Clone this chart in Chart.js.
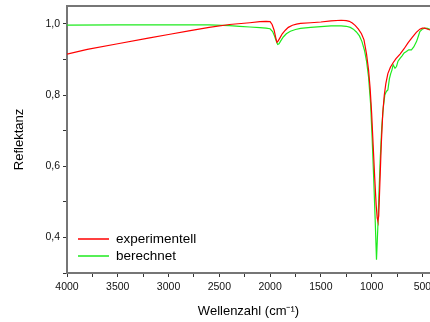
<!DOCTYPE html>
<html>
<head>
<meta charset="utf-8">
<script src="https://cdn.jsdelivr.net/npm/chart.js@4/dist/chart.umd.min.js"></script>
<style>
  html, body { margin: 0; padding: 0; background: #fff; }
  #wrap { width: 430px; height: 322px; position: relative; }
</style>
</head>
<body>
<div id="wrap"><canvas id="spectrum"></canvas></div>
<script>
// series labels
const seriesLabels = ["experimentell", "berechnet"];

// experimentell (red), wavenumber in cm^-1 and reflectance
const expWavenumber = [4000, 3800, 3500, 3200, 3000, 2800, 2600, 2400, 2200, 2100, 2040, 2000, 1980, 1960, 1945, 1932, 1920, 1900, 1880, 1850, 1820, 1780, 1740, 1700, 1600, 1500, 1400, 1300, 1250, 1220, 1190, 1160, 1130, 1100, 1075, 1050, 1030, 1015, 1000, 985, 970, 955, 945, 938, 930, 920, 905, 890, 875, 860, 840, 815, 790, 760, 720, 680, 640, 600, 560, 525, 500, 480, 460, 440, 425];
const expReflectance = [0.915, 0.928, 0.944, 0.96, 0.97, 0.98, 0.99, 0.998, 1.003, 1.006, 1.007, 1.006, 0.998, 0.982, 0.962, 0.948, 0.952, 0.962, 0.972, 0.982, 0.99, 0.996, 0.999, 1.001, 1.003, 1.005, 1.008, 1.01, 1.009, 1.007, 1.002, 0.995, 0.985, 0.972, 0.955, 0.915, 0.87, 0.82, 0.75, 0.66, 0.57, 0.49, 0.455, 0.446, 0.46, 0.54, 0.66, 0.75, 0.8, 0.832, 0.86, 0.878, 0.89, 0.902, 0.915, 0.93, 0.947, 0.962, 0.976, 0.985, 0.988, 0.988, 0.986, 0.984, 0.983];

// berechnet (green)
const calcWavenumber = [4000, 3500, 3000, 2600, 2400, 2300, 2200, 2100, 2040, 2000, 1975, 1955, 1940, 1925, 1912, 1895, 1870, 1840, 1800, 1750, 1700, 1600, 1500, 1400, 1300, 1250, 1210, 1180, 1150, 1120, 1095, 1070, 1050, 1030, 1010, 995, 980, 965, 952, 940, 928, 915, 900, 885, 870, 855, 840, 825, 812, 800, 788, 770, 755, 740, 720, 700, 680, 657, 635, 608, 585, 558, 540, 525, 500, 476, 450, 425];
const calcReflectance = [0.996, 0.997, 0.997, 0.997, 0.995, 0.993, 0.991, 0.989, 0.988, 0.986, 0.978, 0.965, 0.952, 0.942, 0.944, 0.952, 0.963, 0.972, 0.979, 0.984, 0.987, 0.99, 0.992, 0.994, 0.994, 0.993, 0.99, 0.985, 0.977, 0.966, 0.95, 0.925, 0.895, 0.85, 0.775, 0.68, 0.57, 0.45, 0.337, 0.42, 0.52, 0.62, 0.71, 0.765, 0.8, 0.81, 0.814, 0.845, 0.86, 0.87, 0.885, 0.875, 0.88, 0.895, 0.903, 0.91, 0.918, 0.922, 0.927, 0.927, 0.935, 0.95, 0.965, 0.978, 0.985, 0.988, 0.987, 0.984];

// labelled ticks
const xTickLabels = [4000, 3500, 3000, 2500, 2000, 1500, 1000, 500];
const yTickLabels = [0.4, 0.6, 0.8, 1.0];

const FONT = "'Liberation Sans', Arial, sans-serif";
const AXIS_GRAY = "#767676";

const toPoints = (xs, ys) => xs.map((x, i) => ({ x: x, y: ys[i] }));

// chart has no right border, only the top line, and the legend sits inside the plot
const frameAndLegend = {
  id: "frameAndLegend",
  afterDraw(chart) {
    const { ctx, chartArea } = chart;
    ctx.save();
    ctx.strokeStyle = AXIS_GRAY;
    ctx.lineWidth = 2;
    ctx.beginPath();
    ctx.moveTo(chartArea.left - 1, chartArea.top);
    ctx.lineTo(chartArea.right, chartArea.top);
    ctx.stroke();

    const x0 = chartArea.left + 11;
    ctx.font = "13.5px " + FONT;
    ctx.textBaseline = "middle";
    ctx.fillStyle = "#000";
    chart.data.datasets.forEach((ds, i) => {
      const y = chartArea.bottom - 34 + i * 17;
      ctx.strokeStyle = ds.borderColor;
      ctx.lineWidth = 1.5;
      ctx.beginPath();
      ctx.moveTo(x0, y);
      ctx.lineTo(x0 + 31, y);
      ctx.stroke();
      ctx.fillText(ds.label, x0 + 38, y);
    });
    ctx.restore();
  },
};

new Chart(document.getElementById("spectrum"), {
  type: "line",
  data: {
    datasets: [
      {
        label: seriesLabels[0],
        data: toPoints(expWavenumber, expReflectance),
        borderColor: "#ff0000",
        borderWidth: 1.2,
        pointRadius: 0,
        tension: 0,
      },
      {
        label: seriesLabels[1],
        data: toPoints(calcWavenumber, calcReflectance),
        borderColor: "#1eea1e",
        borderWidth: 1.2,
        pointRadius: 0,
        tension: 0,
      },
    ],
  },
  options: {
    responsive: true,
    maintainAspectRatio: false,
    animation: false,
    layout: { padding: { top: 6, right: 0, left: 0, bottom: 0 } },
    plugins: {
      legend: { display: false },
      tooltip: { enabled: false },
    },
    scales: {
      x: {
        type: "linear",
        reverse: true,
        min: 425,
        max: 4000,
        afterFit: (scale) => {
          scale.height = 49;
          scale.paddingLeft = 0;
          scale.paddingRight = 0;
        },
        border: { display: true, color: AXIS_GRAY, width: 2 },
        grid: { display: true, drawOnChartArea: false, drawTicks: true, tickLength: 4, color: "#333" },
        ticks: {
          stepSize: 250,
          includeBounds: false,
          autoSkip: false,
          maxRotation: 0,
          padding: 4,
          color: "#111",
          font: { family: FONT, size: 10.5 },
          callback: (v) => (xTickLabels.includes(v) ? String(v) : ""),
        },
        title: {
          display: true,
          text: "Wellenzahl (cm⁻¹)",
          color: "#000",
          font: { family: FONT, size: 13 },
          padding: { top: 0, bottom: 3 },
        },
      },
      y: {
        min: 0.3,
        max: 1.05,
        afterFit: (scale) => {
          scale.width = 67;
          scale.paddingTop = 0;
          scale.paddingBottom = 0;
        },
        border: { display: true, color: AXIS_GRAY, width: 2 },
        grid: { display: true, drawOnChartArea: false, drawTicks: true, tickLength: 4, color: "#333" },
        ticks: {
          stepSize: 0.1,
          includeBounds: false,
          autoSkip: false,
          padding: 3,
          color: "#111",
          font: { family: FONT, size: 10.5 },
          callback: (v) => {
            const r = Math.round(v * 10) / 10;
            return yTickLabels.includes(r) ? r.toFixed(1).replace(".", ",") : "";
          },
        },
        title: {
          display: true,
          text: "Reflektanz",
          color: "#000",
          font: { family: FONT, size: 13 },
          padding: { top: 12, bottom: 0 },
        },
      },
    },
  },
  plugins: [frameAndLegend],
});
</script>
</body>
</html>
